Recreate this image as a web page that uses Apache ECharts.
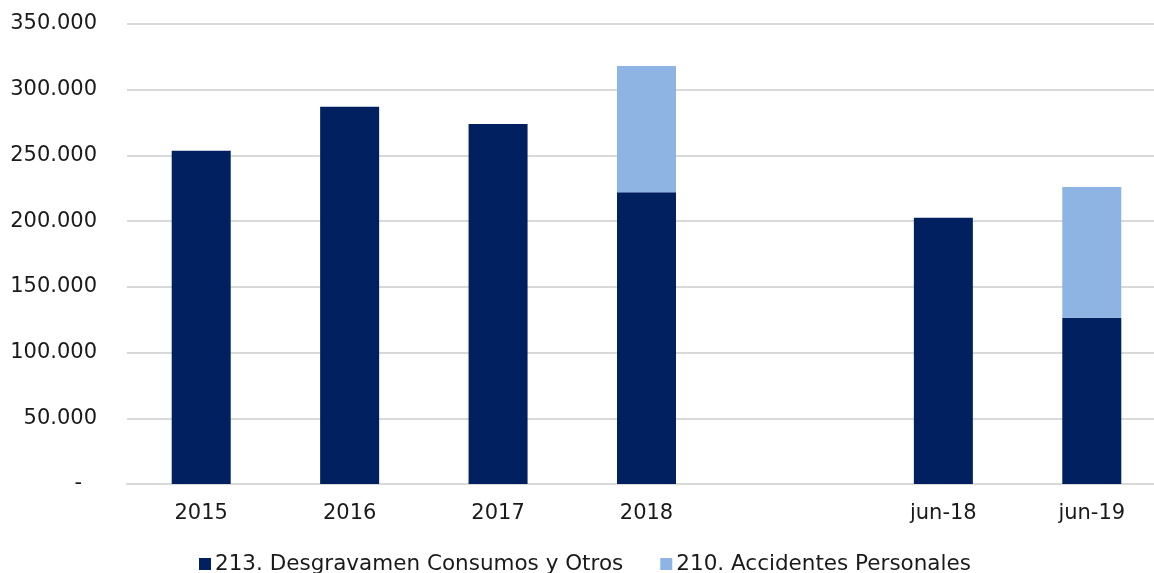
<!DOCTYPE html>
<html>
<head>
<meta charset="utf-8">
<script src="https://cdn.jsdelivr.net/npm/echarts@6/dist/echarts.min.js"></script>
<style>
  html, body { margin: 0; padding: 0; background: #fff; overflow: hidden; }
  #chart { width: 1166px; height: 573px; }
</style>
</head>
<body>
<div id="chart"></div>
<script>
// categories (blank slot between 2018 and jun-18 keeps the gap)
const categories = ['2015', '2016', '2017', '2018', '', 'jun-18', 'jun-19'];
const desgravamen = [253500, 287000, 274000, 222000, null, 202500, 126500];
const accidentes = [null, null, null, 96000, null, null, 99500];
const legends = ['213. Desgravamen Consumos y Otros', '210. Accidentes Personales'];
const colors = ['#002060', '#8EB4E3'];

function fmt(v) {
  if (v === 0) return '{d|-}';
  return String(v).replace(/\B(?=(\d{3})+(?!\d))/g, '.');
}

const chart = echarts.init(document.getElementById('chart'));
chart.setOption({
  animation: false,
  textStyle: { fontFamily: 'DejaVu Sans, Verdana, sans-serif' },
  grid: { left: 127, right: 0, top: 24, bottom: 89 },
  legend: {
    data: legends,
    left: 199,
    top: 553,
    padding: 0,
    itemWidth: 12,
    itemHeight: 12,
    itemGap: 37,
    icon: 'rect',
    selectedMode: false,
    textStyle: { fontSize: 21.5, color: '#1a1a1a', padding: [0, 0, 0, -1] }
  },
  xAxis: {
    type: 'category',
    data: categories,
    axisTick: { show: false },
    axisLine: { lineStyle: { color: '#d9d9d9', width: 2 } },
    axisLabel: { fontSize: 21, color: '#1a1a1a', margin: 19, interval: 0 }
  },
  yAxis: {
    type: 'value',
    min: 0,
    max: 350000,
    interval: 50000,
    axisLine: { show: false },
    axisTick: { show: false },
    splitLine: { lineStyle: { color: '#d9d9d9', width: 2 } },
    axisLabel: {
      fontSize: 21,
      color: '#1a1a1a',
      margin: 30,
      formatter: fmt,
      rich: { d: { fontSize: 21, color: '#1a1a1a', padding: [0, 15, 0, 0] } }
    }
  },
  series: [
    {
      name: legends[0],
      type: 'bar',
      stack: 'total',
      barWidth: 59,
      itemStyle: { color: colors[0] },
      data: desgravamen
    },
    {
      name: legends[1],
      type: 'bar',
      stack: 'total',
      barWidth: 59,
      itemStyle: { color: colors[1] },
      data: accidentes
    }
  ]
});
</script>
</body>
</html>
